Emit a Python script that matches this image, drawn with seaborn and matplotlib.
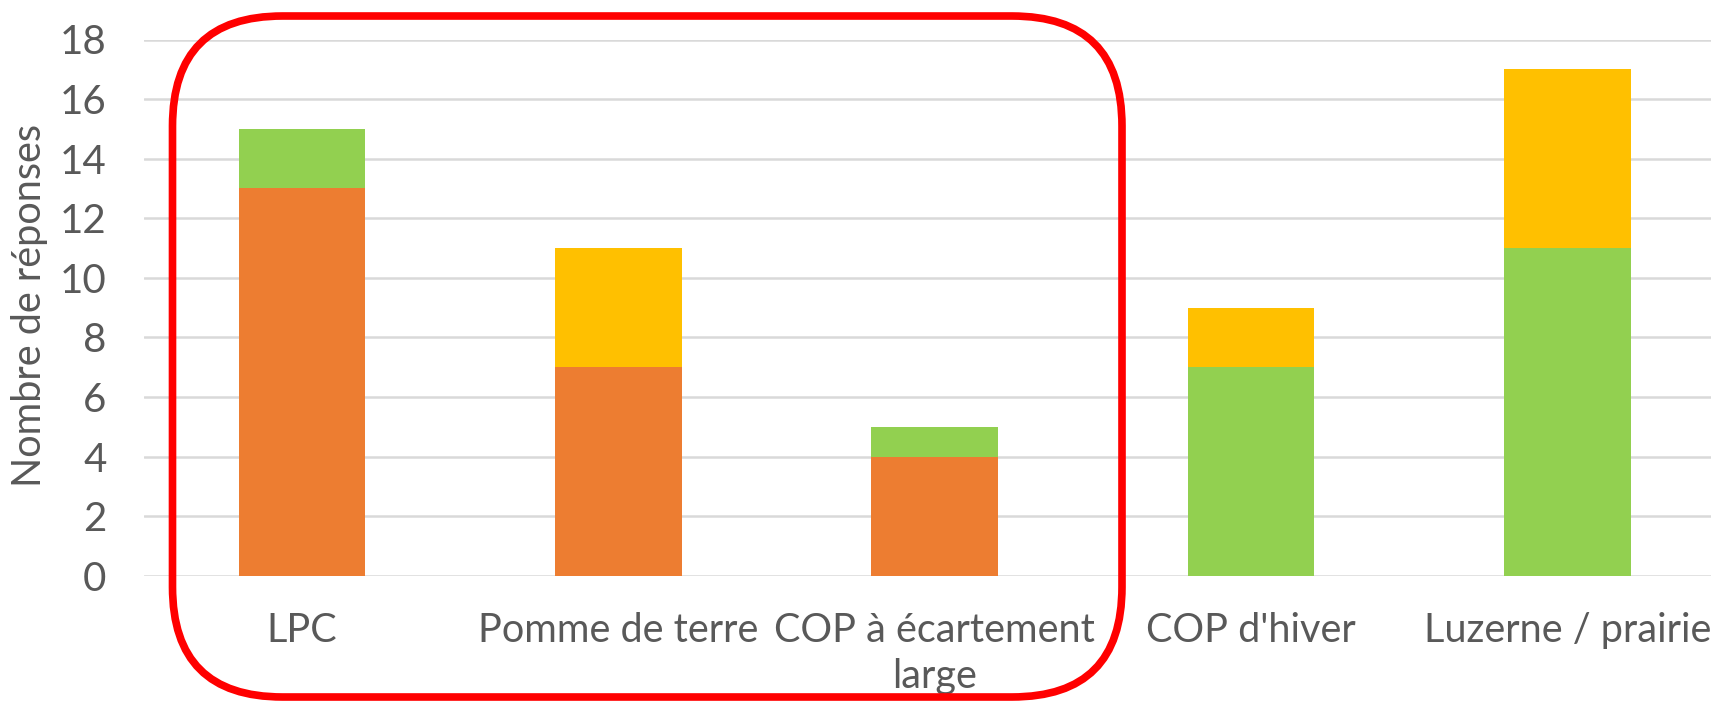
import matplotlib
matplotlib.use("Agg")
import matplotlib.pyplot as plt
from matplotlib.patches import FancyBboxPatch
import seaborn as sns

categories = ["LPC", "Pomme de terre", "COP à écartement\nlarge", "COP d'hiver", "Luzerne / prairie"]
orange_vals = [13, 7, 4, 0, 0]
green_vals = [2, 0, 1, 7, 11]
yellow_vals = [0, 4, 0, 2, 6]
y_ticks = [0, 2, 4, 6, 8, 10, 12, 14, 16, 18]

ORANGE = "#ED7D31"
GREEN = "#92D050"
YELLOW = "#FFC000"
TEXT = "#595959"

sns.set_theme(style="white")
plt.rcParams["font.family"] = ["Lato", "DejaVu Sans"]

W, H = 1711, 703
fig = plt.figure(figsize=(W / 100, H / 100), dpi=100)
# plot area in pixels: left 144, top 39.5, bottom 575.7, slot width ~316.3 (cropped on the right)
left, top, bottom, slot = 144, 39.5, 575.7, 316.3
ax = fig.add_axes([left / W, (H - bottom) / H, 5 * slot / W, (bottom - top) / H])

# stacked bars: draw cumulative totals from the top layer down
cum_green = [o + g for o, g in zip(orange_vals, green_vals)]
cum_yellow = [c + y for c, y in zip(cum_green, yellow_vals)]
for vals, col in [(cum_yellow, YELLOW), (cum_green, GREEN), (orange_vals, ORANGE)]:
    sns.barplot(x=categories, y=vals, color=col, saturation=1, width=0.4,
                linewidth=0, ax=ax, zorder=3)

ax.set_ylim(0, 18)
ax.set_xlim(-0.5, 4.5)
ax.set_yticks(y_ticks)
ax.yaxis.grid(True, color="#D9D9D9", linewidth=1.8, zorder=0)
ax.set_axisbelow(True)
for s in ax.spines.values():
    s.set_visible(False)
ax.tick_params(axis="both", length=0, colors=TEXT)
ax.tick_params(axis="y", labelsize=29, pad=27)
ax.tick_params(axis="x", labelsize=28.5, pad=26)
for lab in ax.get_xticklabels():
    lab.set_linespacing(1.3)
ax.set_xlabel("")
ax.set_ylabel("")

fig.text(30 / W, 1 - 305.5 / H, "Nombre de réponses", rotation=90,
         ha="center", va="center", fontsize=28.5, color=TEXT)

# red rounded highlight box, drawn in pixel coordinates
over = fig.add_axes([0, 0, 1, 1], facecolor="none")
over.set_xlim(0, W)
over.set_ylim(H, 0)
over.axis("off")
box = FancyBboxPatch((172.5, 16), 1122 - 172.5, 697 - 16,
                     boxstyle="round,pad=0,rounding_size=110",
                     fill=False, edgecolor="#FF0000", linewidth=5.5)
over.add_patch(box)

fig.savefig("out.png", dpi=100)
